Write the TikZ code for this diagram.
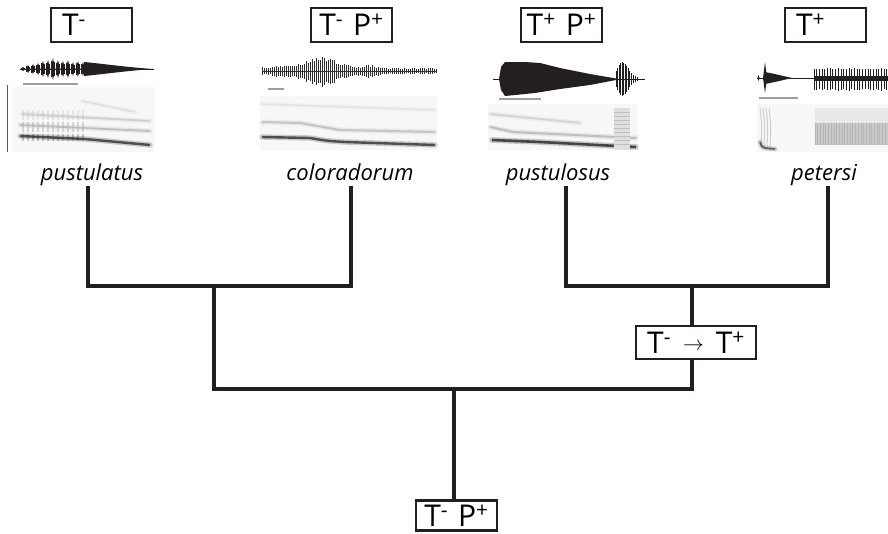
\documentclass[tikz,border=0pt]{standalone}
\usepackage{fontspec}
\setmainfont{Open Sans}
\definecolor{ink}{HTML}{231F20}
\newcommand{\softline}[3]{%
  \draw[#1, line width=#2+3pt, opacity=0.22, line cap=round] #3;
  \draw[#1, line width=#2, opacity=0.75] #3;}
\begin{document}
\begin{tikzpicture}[x=1pt,y=-1pt,
  treeline/.style={line width=3.2pt, draw=ink},
  statebox/.style={draw=ink, line width=2.2pt, fill=white, minimum width=81pt, minimum height=34pt, inner sep=0pt, font=\fontsize{30}{32}\selectfont},
  leftbox/.style={statebox, text width=59pt, align=left},
  species/.style={font=\fontsize{22}{26}\selectfont\itshape, anchor=base, inner sep=0pt},
  wave/.style={fill=ink},
  scalebar/.style={draw=gray!75, line width=1.2pt},
  spec/.style={fill=gray!6},
  axisline/.style={draw=gray!70!black, line width=0.8pt}
]
\useasboundingbox (0,0) rectangle (888,533);
\pgfmathsetseed{7}

% ---------------- state boxes ----------------
\node[leftbox] (b1) at (91.5,25) {T\textsuperscript{-}};
\node[statebox] (b2) at (351.5,25) {T\textsuperscript{-}\hspace{10pt}P\textsuperscript{+}};
\node[statebox] (b3) at (561.5,25) {T\textsuperscript{+}\hspace{10pt}P\textsuperscript{+}};
\node[leftbox] (b4) at (825.5,25) {T\textsuperscript{+}};

% ---------------- waveform 1 : pustulatus ----------------
\draw[ink, line width=0.8pt] (20,69) -- (154,69);
\foreach \x/\a in {23/2,28/4,33/5,38/6,43/8,48/9,53/11,58/9,63/8,68/9,73/7,78/8,83/7}{
  \fill[wave] (\x-2.3,69) -- (\x,69-\a) -- (\x+2.3,69) -- (\x,69+\a) -- cycle;
  \draw[ink, line width=0.6pt] (\x-1.5,69-0.7*\a) -- (\x-1.5,69+0.7*\a) (\x+1.5,69-0.6*\a) -- (\x+1.5,69+0.6*\a);
}
\fill[wave] (84,62) .. controls (105,64) and (125,67) .. (153,69)
  .. controls (125,71) and (105,74) .. (84,76) -- cycle;
\draw[scalebar] (23,84) -- (78,84);
\fill[spec] (12,87) rectangle (155,152);
\draw[axisline] (7,85) -- (7,152);
\foreach \x in {23,28,33,38,43,48,53,58,63,68,73,78,83}{
  \draw[gray!30, line width=2pt, opacity=0.6] (\x,110) -- (\x,120);
  \draw[gray!45, line width=2pt, opacity=0.7] (\x,122) -- (\x,132);
  \draw[gray!60, line width=2.4pt, opacity=0.7] (\x,134) -- (\x,141);
}
\softline{gray!30}{1.5pt}{(82,101) -- (135,112)}
\softline{gray!45}{1.8pt}{(22,114) -- (150,121)}
\softline{gray!60}{1.8pt}{(20,125) -- (150,131)}
\softline{black!85}{2.4pt}{(20,136) -- (85,139) -- (150,145)}

% ---------------- waveform 2 : coloradorum ----------------
\draw[gray!40!black, line width=0.7pt] (262,71) -- (437,71);
\foreach \i in {0,...,87}{
  \pgfmathsetmacro{\xx}{262+2*\i}
  \pgfmathsetmacro{\aa}{(2.5 + 8.5*exp(-((\xx-322)/22)^2) + 2.5*exp(-((\xx-368)/10)^2) + 2*exp(-((\xx-290)/25)^2))*(0.75+0.5*rnd)}
  \draw[gray!35!black, line width=0.75pt] (\xx,71-\aa) -- (\xx,71+1.1*\aa);
}
\draw[scalebar] (268,89) -- (284,89);
\fill[spec] (260,96) rectangle (437,150);
\softline{gray!25}{1.5pt}{(262,104) -- (435,110)}
\softline{gray!55}{2pt}{(262,122) -- (300,123) .. controls (320,127) .. (340,130) -- (435,132)}
\softline{black!85}{2.4pt}{(262,137) -- (310,138) .. controls (328,141) .. (345,142) -- (435,145)}

% ---------------- waveform 3 : pustulosus ----------------
\draw[ink, line width=0.8pt] (493,79) -- (645,79);
\fill[wave] (499,79) -- (501,67) -- (505,62) -- (525,62) -- (540,63) -- (560,68)
  -- (590,74) -- (616,78.5) -- (616,80) -- (590,85) -- (560,89) -- (535,93)
  -- (515,95) -- (505,96) -- (501,90) -- cycle;
\foreach \x/\a in {616/8,617.5/11,619/14,620.5/16,622/17,623.5/16,625/15,626.5/13,628/11,629.5/8,631/6,633/4,635/3,637/2}
  \draw[ink, line width=0.7pt] (\x,79-\a) -- (\x,79+\a);
\draw[scalebar] (499,99) -- (541,99);
\fill[spec] (488,104) rectangle (638,150);
\softline{gray!40}{1.8pt}{(490,114) -- (580,123)}
\softline{gray!60}{2pt}{(490,127) -- (513,132) -- (636,138)}
\softline{black!90}{2.6pt}{(492,140) -- (540,142) -- (636,147)}
\fill[gray!25] (614,108) rectangle (630,150);
\foreach \y in {112,116,...,146}
  \draw[gray!50, line width=1pt] (614,\y) -- (630,\y);

% ---------------- waveform 4 : petersi ----------------
\draw[ink, line width=0.8pt] (757,78) -- (888,78);
\fill[wave] (758.5,75) -- (759.5,78) -- (758.5,81) -- (757.5,78) -- cycle;
\fill[wave] (763,78) -- (765,62) -- (767,78) -- (765,93) -- cycle;
\fill[wave] (765,72) .. controls (775,74) .. (792,78) .. controls (775,82) .. (765,84) -- cycle;
\foreach \i in {0,...,27}{
  \pgfmathsetmacro{\xx}{814+2.7*\i}
  \pgfmathsetmacro{\aa}{8.5+1.5*rnd}
  \draw[ink, line width=0.9pt] (\xx,78-\aa) -- (\xx,78+1.3*\aa);
}
\fill[ink] (814,76) rectangle (888,81);
\draw[scalebar] (759,98) -- (798,98);
\fill[spec] (757,104) rectangle (888,152);
\foreach \x in {760,763,766,769}
  \draw[gray!40, line width=0.9pt] (\x,108) .. controls (\x+2,125) .. (\x+1,148);
\softline{black!80}{1.6pt}{(760,142) .. controls (762,148) .. (775,149)}
\fill[gray!18] (815,108) rectangle (888,123);
\fill[gray!42] (815,123) rectangle (888,145);
\foreach \i in {0,...,27}
  \draw[gray!58, line width=0.8pt] (815+2.7*\i,123) -- (815+2.7*\i,145);

% ---------------- species labels ----------------
\node[species] (s1) at (92,180) {pustulatus};
\node[species] (s2) at (350,180) {coloradorum};
\node[species] (s3) at (558,180) {pustulosus};
\node[species] (s4) at (824,180) {petersi};

% ---------------- tree ----------------
\coordinate (t1) at (88,186);
\coordinate (t2) at (351,186);
\coordinate (t3) at (566,186);
\coordinate (t4) at (828,186);
\coordinate (j1) at (214,286);
\coordinate (j2) at (692,286);
\coordinate (r) at (454,389);

\node[statebox, minimum width=120pt, minimum height=33pt] (bt) at (696,342.5)
  {T\textsuperscript{-}\hspace{12pt}\raisebox{3pt}{\fontsize{20}{20}\selectfont$\rightarrow$}\hspace{12pt}T\textsuperscript{+}};
\node[statebox, minimum height=30pt] (broot) at (456.5,515.5)
  {T\textsuperscript{-}\hspace{10pt}P\textsuperscript{+}};

\draw[treeline] (t1) |- (j1) -| (t2);
\draw[treeline] (j1) |- (r);
\draw[treeline] (t3) |- (j2) -| (t4);
\draw[treeline] (j2) -- (bt.north -| j2);
\draw[treeline] (bt.south -| j2) |- (r);
\draw[treeline] (r) -- (broot.north -| r);
\end{tikzpicture}
\end{document}
